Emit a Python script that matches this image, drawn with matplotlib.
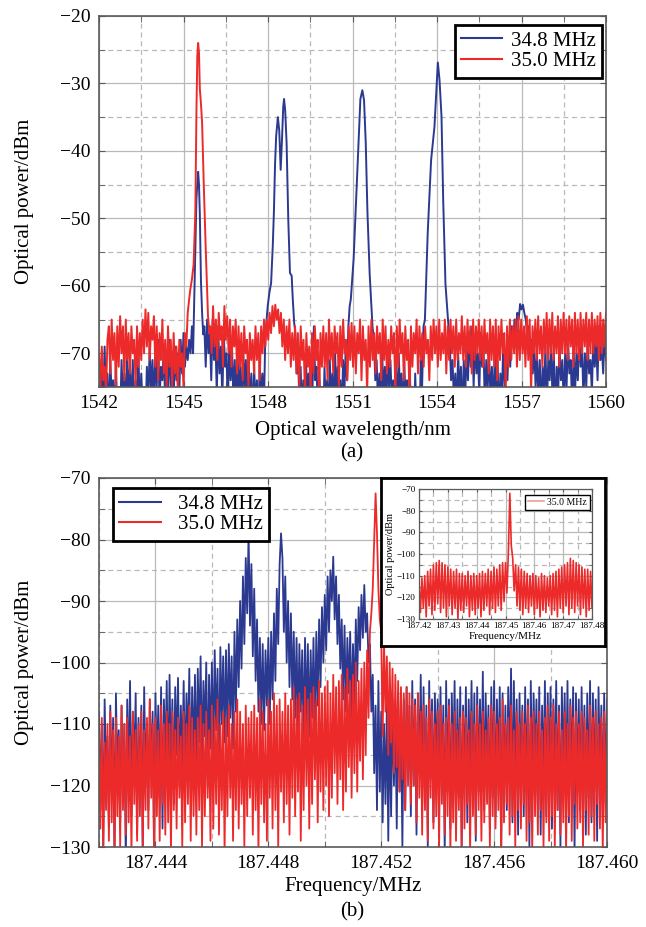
import numpy as np
import matplotlib
matplotlib.use('Agg')
import matplotlib.pyplot as plt
from matplotlib.ticker import MultipleLocator, FixedLocator, FormatStrFormatter

plt.rcParams['font.family'] = ['Liberation Serif', 'DejaVu Serif']
plt.rcParams['axes.unicode_minus'] = True

BLUE = '#2b3990'
RED = '#ec2a2a'
series_labels = ['34.8 MHz', '35.0 MHz']

# ---------------- panel (a): optical spectrum ----------------
a_xticks = [1542, 1545, 1548, 1551, 1554, 1557, 1560]
a_yticks = [-70, -60, -50, -40, -30, -20]

# 34.8 MHz trace: noise segments (start, end, values) and peaks (x, y)
a_b_n1_rng = (1542.00, 1545.30)
a_b_n1 = [-74, -79, -72, -77, -69, -78, -73, -80, -71, -76,
          -74, -79, -72, -78, -75, -80, -71, -77, -73, -79,
          -70, -76, -72, -78, -71, -80, -74, -77, -70, -79,
          -73, -78, -75, -80, -72, -77, -69, -76, -71, -78,
          -70, -75, -68, -77, -72, -74, -69, -78, -70, -76,
          -68, -75, -71, -77, -69, -74, -70, -76, -68, -73,
          -67, -72, -69, -71, -68, -70, -66]
a_b_p1_x = [1545.34, 1545.38, 1545.42, 1545.46, 1545.52, 1545.55, 1545.58, 1545.62, 1545.66, 1545.70]
a_b_p1_y = [-70, -62, -54.6, -47, -43.1, -45, -49.4, -59.3, -64, -67.2]
a_b_n2_rng = (1545.74, 1547.95)
a_b_n2 = [-66, -72, -65, -70, -67, -74, -65, -71, -68, -76,
          -66, -73, -69, -77, -67, -72, -70, -78, -68, -74,
          -69, -77, -71, -79, -70, -76, -72, -80, -69, -75,
          -71, -78, -70, -79, -73, -81, -72, -78, -74, -82,
          -71, -77, -73, -79, -68, -65]
a_b_p2_x = [1547.99, 1548.05, 1548.11, 1548.17, 1548.21, 1548.25, 1548.29, 1548.35, 1548.40, 1548.45,
            1548.50, 1548.54, 1548.57, 1548.61, 1548.66, 1548.72, 1548.78, 1548.84, 1548.88, 1548.93]
a_b_p2_y = [-63, -61, -59.6, -54, -49, -42, -37.8, -35, -37, -42.8,
            -38, -33.5, -32.3, -34, -38.8, -50.2, -58.1, -58.5, -62, -65.5]
a_b_n3_rng = (1548.97, 1550.90)
a_b_n3 = [-67, -73, -70, -77, -72, -79, -74, -80, -71, -76,
          -73, -78, -70, -75, -66, -74, -72, -79, -73, -77,
          -75, -81, -72, -78, -74, -80, -71, -77, -73, -79,
          -70, -76, -72, -78, -74, -80, -71, -76, -69, -74,
          -66, -63]
a_b_p3_x = [1550.94, 1551.04, 1551.13, 1551.22, 1551.28, 1551.35, 1551.41, 1551.47, 1551.53, 1551.61, 1551.71]
a_b_p3_y = [-62, -56, -47, -37.8, -32.3, -31, -32.5, -38.8, -49, -58.3, -66]
a_b_n4_rng = (1551.76, 1553.52)
a_b_n4 = [-68, -74, -71, -78, -73, -80, -70, -76, -72, -79,
          -69, -75, -71, -77, -74, -81, -72, -78, -70, -76,
          -73, -80, -71, -77, -74, -82, -72, -79, -75, -81,
          -73, -80, -76, -82, -71, -75, -66]
a_b_p4_x = [1553.57, 1553.67, 1553.79, 1553.91, 1553.97, 1554.03, 1554.09, 1554.16, 1554.22, 1554.30, 1554.40]
a_b_p4_y = [-65.1, -52.2, -41.4, -36.4, -31.5, -26.9, -29.5, -34.9, -47.3, -59.7, -65.6]
a_b_n5_rng = (1554.45, 1560.00)
a_b_n5 = [-68, -74, -71, -77, -73, -79, -70, -76, -72, -80, -71,
          -77, -69, -74, -67, -72, -66, -75, -68, -73, -70,
          -76, -67, -72, -69, -78, -71, -75, -70, -77, -72,
          -79, -70, -76, -71, -80, -73, -77, -69, -75, -71,
          -74, -68, -72, -66, -69, -65, -67, -64, -65, -62.7,
          -63.5, -62.8, -64, -65, -67, -66, -70, -68, -73, -69,
          -75, -70, -77, -71, -79, -72, -76, -69, -78, -71,
          -74, -68, -77, -70, -80, -72, -76, -69, -74, -71,
          -78, -70, -75, -68, -73, -71, -79, -69, -76, -70,
          -74, -67, -72, -69, -77, -70, -75, -68, -73, -71,
          -76, -67, -72, -68, -74, -66, -71, -69, -73, -67, -71]

# 35.0 MHz trace
a_r_n1_rng = (1542.00, 1545.20)
a_r_n1 = [-70, -75, -69, -74, -72, -76, -68,
          -66, -73, -65, -71, -67, -75, -66, -72, -64.5, -70, -66, -74, -65, -71,
          -67, -73, -66, -70, -68, -75, -66, -72, -67, -71,
          -65, -70, -63.5, -69, -64, -71, -66, -68, -64.5, -72,
          -66, -74, -67, -71, -65, -73, -68, -75, -66, -72,
          -68, -75, -67, -73, -69, -76, -68, -72, -70, -75, -67, -69, -64, -62]
a_r_p_x = [1545.24, 1545.30, 1545.36, 1545.42, 1545.46, 1545.49, 1545.52, 1545.55,
           1545.58, 1545.62, 1545.66, 1545.72, 1545.79, 1545.87, 1545.92]
a_r_p_y = [-60.6, -59, -56.8, -49, -34, -26, -24, -25.5, -30.8, -33, -35.8, -45, -54.6, -64.5, -67]
a_r_n2_rng = (1545.95, 1560.00)
a_r_n2 = [-66, -70, -63, -69, -65, -71, -64, -68, -66, -72,
          -63, -68, -64.5, -70, -65, -72, -66, -69, -65, -73,
          -66, -72, -67, -74, -66, -70, -68, -75, -67, -71,
          -68, -73, -66, -71, -67, -74, -66, -70, -65, -69,
          -65, -68, -64, -67, -63, -66, -62.8, -65, -63.5, -67,
          -64, -69, -65, -71, -66, -70, -65, -72, -67, -71,
          -66, -73, -67, -75, -66, -71, -68, -76, -67, -72,
          -69, -76, -67, -73, -66, -71, -68, -77, -67, -72,
          -66, -72, -67, -74, -65, -71, -67, -73, -66, -70,
          -67, -75, -66, -72, -65, -70, -68, -74, -66, -71,
          -65.5, -72, -66, -73, -67, -70, -65, -74, -66, -71,
          -68, -76, -66, -72, -65, -71, -67, -73, -66, -70,
          -67, -74, -65, -71, -66, -73, -68, -72, -66, -70,
          -67, -76, -66, -72, -65, -70, -67, -74, -66, -71,
          -68, -77, -66, -72, -67, -70, -65, -73, -66, -71,
          -67, -72, -66, -70, -68, -74, -66, -71, -65, -70,
          -66, -72, -65, -71, -67, -70, -65, -73, -66, -71,
          -65, -70, -66, -72, -65, -71, -67, -70, -64.5, -71,
          -66, -72, -65, -70, -66, -73, -65, -71, -66, -70,
          -65, -71, -66, -72, -65, -70, -67, -73, -65, -71,
          -66, -72, -65, -74, -66, -71, -65, -70, -67, -76,
          -66, -72, -65, -71, -66, -70, -65, -72, -64.5, -71,
          -65, -70, -66, -72, -64.5, -71, -65, -76, -66, -70,
          -65, -71, -64.5, -70, -66, -72, -65, -70, -64, -71,
          -65, -70, -64, -71, -66, -70, -64.5, -72, -65, -70,
          -64, -70, -65, -71, -64.5, -69, -65, -72, -64, -70,
          -65, -71, -64, -70, -65, -69, -64, -71, -65, -70,
          -64, -70, -65, -69, -64.5, -71, -64, -70, -65, -69, -64]

# ---------------- panel (b): beat spectrum ----------------
b_range = (187.442, 187.460)
b_xticks = [187.444, 187.448, 187.452, 187.456, 187.460]
b_yticks = [-130, -120, -110, -100, -90, -80, -70]
b_blue = [-108, -124, -110, -130, -106, -119, -112, -127, -107, -121,
          -109, -131, -105, -118, -111, -126, -107, -122, -110, -133,
          -106, -120, -103, -125, -108, -117, -105, -128, -109, -121,
          -107, -131, -104, -119, -110, -124, -106, -118, -108, -129,
          -105, -117, -107, -122, -104, -127, -106, -116, -103, -121,
          -102, -118, -106, -123, -104, -115, -102.5, -120, -107, -117,
          -103, -119, -105, -114, -101, -122, -104, -116, -102, -118,
          -101, -113, -99, -117, -103, -112, -100, -120, -102, -114,
          -100, -115, -98, -111, -101, -118, -97.5, -110, -99, -113,
          -98, -112, -97, -109, -99, -114, -95, -108, -93, -104,
          -90, -101, -86, -97, -83, -92, -79, -94, -84, -99,
          -88, -103, -93, -108, -96, -110, -97, -111, -98, -107,
          -96, -110, -95, -106, -92, -103, -88, -97, -84, -79,
          -83, -95, -86, -100, -90, -104, -92, -106, -95, -109,
          -96, -111, -97, -108, -98, -113, -96, -110, -97, -112,
          -98, -109, -96, -112, -95, -107, -93, -104, -91, -100,
          -89, -98, -86, -95, -85, -90, -82.8, -93, -86, -97,
          -89, -101, -93, -106, -94, -108, -96, -105, -95, -109,
          -97, -107, -93, -103, -91, -98, -89, -96, -87.4, -95,
          -92, -100, -97, -108, -102, -118, -107, -124, -103, -121,
          -108, -126, -110, -123, -107, -129, -109, -125, -106, -120,
          -108, -127, -105, -121, -110, -130, -106, -124, -104, -119,
          -107, -125, -103, -120, -106, -128, -105, -118, -102, -123,
          -104, -122, -107, -130, -103, -119, -106, -126, -105, -117,
          -106, -124, -104, -120, -107, -131, -103, -121, -106, -127,
          -105, -118, -103, -125, -106, -122, -104, -130, -107, -120,
          -104, -126, -106, -119, -103, -123, -105, -129, -104, -121,
          -106, -120, -101.5, -124, -105, -118, -107, -127, -104, -122,
          -103, -125, -106, -119, -104, -131, -105, -121, -107, -124,
          -104, -118, -101, -126, -103, -120, -106, -128, -105, -119,
          -107, -125, -104, -121, -106, -130, -103, -122, -105, -117,
          -106, -123, -104, -128, -107, -120, -103, -125, -105, -119,
          -104, -127, -106, -121, -103, -124, -107, -130, -104, -118,
          -105, -122, -103, -126, -106, -119, -104, -131, -105, -121,
          -106, -124, -104, -120, -107, -128, -105, -122, -103, -126,
          -105, -121, -106, -129, -104, -119, -107, -125, -105, -123,
          -106]
b_red = [-112, -127, -109, -131, -113, -124, -110, -129, -108, -126,
         -111, -132, -109, -125, -112, -130, -107, -124, -110, -128,
         -109, -126, -112, -131, -108, -123, -111, -129, -110, -125,
         -108, -130, -111, -124, -109, -127, -106, -122, -110, -131,
         -109, -125, -111, -129, -107, -123, -110, -128, -108, -126,
         -110, -131, -108, -124, -111, -127, -109, -122, -112, -130,
         -108, -126, -110, -123, -107, -129, -109, -125, -111, -128,
         -109, -124, -107, -130, -110, -125, -108, -122, -111, -129,
         -107, -127, -109, -123, -106, -128, -110, -124, -108, -131,
         -109, -125, -107, -122, -110, -129, -108, -124, -106, -127,
         -108, -123, -110, -130, -107, -125, -109, -122, -108, -128,
         -107, -124, -109, -131, -106, -123, -108, -126, -110, -129,
         -106, -122, -108, -127, -105, -124, -107, -130, -106, -121,
         -108, -126, -105, -123, -107, -128, -106, -122, -104, -125,
         -106, -121, -105, -129, -107, -124, -104, -120, -106, -127,
         -105, -123, -104, -119, -106, -126, -103, -121, -105, -124,
         -104, -120, -103, -125, -105, -122, -102, -118, -104, -123,
         -103, -119, -102, -124, -104, -121, -101, -117, -103, -122,
         -102, -118, -100, -121, -103, -116, -101, -119, -100, -115,
         -98, -109, -95, -92, -88, -80, -72.5, -79, -88, -93,
         -95, -112, -97, -108, -99, -115, -100, -113, -101, -118,
         -102, -117, -103, -121, -104, -119, -105, -124, -104, -120,
         -105, -123, -106, -120, -107, -126, -105, -122, -108, -128,
         -107, -124, -109, -129, -106, -122, -108, -127, -110, -125,
         -108, -130, -107, -123, -110, -128, -109, -125, -107, -131,
         -110, -126, -108, -129, -111, -124, -109, -130, -108, -127,
         -109, -123, -111, -131, -108, -125, -110, -128, -107, -124,
         -110, -129, -108, -126, -111, -123, -109, -130, -107, -125,
         -108, -127, -110, -124, -109, -131, -106, -126, -110, -123,
         -109, -128, -107, -125, -111, -130, -108, -124, -110, -127,
         -108, -123, -110, -129, -107, -126, -109, -131, -108, -125,
         -110, -128, -108, -124, -111, -130, -109, -126, -107, -129,
         -109, -125, -107, -130, -110, -124, -108, -128, -111, -126,
         -108, -131, -110, -125, -107, -129, -109, -123, -108, -127,
         -110, -126, -108, -130, -109, -124, -111, -128, -107, -125,
         -109, -129, -108, -123, -110, -127, -109, -131, -108, -126,
         -110]

# inset: wide span of the 35.0 MHz beat spectrum
c_range = (187.42, 187.48)
c_xticks = [187.42, 187.43, 187.44, 187.45, 187.46, 187.47, 187.48]
c_yticks = [-130, -120, -110, -100, -90, -80, -70]
c_red = [-113, -127, -111, -125, -110, -129, -108, -124, -107, -128,
         -105, -126, -104, -123, -103, -127, -104, -125, -105, -129,
         -106, -124, -107, -128, -108, -125, -107, -130, -109, -126,
         -109, -127, -110, -124, -108, -129, -110, -126, -109, -128,
         -110, -125, -109, -129, -108, -126, -109, -124, -107, -128,
         -108, -125, -106, -127, -107, -124, -105, -126, -104, -122,
         -104, -118, -99, -72, -96, -102, -117, -105, -124, -106,
         -126, -107, -128, -108, -125, -109, -127, -110, -124, -109,
         -128, -110, -125, -111, -129, -109, -126, -110, -127, -111,
         -124, -110, -128, -109, -126, -108, -129, -107, -125, -106,
         -127, -105, -124, -104, -128, -102, -125, -103, -127, -104,
         -124, -105, -128, -106, -125, -107, -129, -107, -126, -108,
         -125]


def noise(rng, vals):
    return np.linspace(rng[0], rng[1], len(vals)), np.asarray(vals, float)


def concat(parts):
    xs = np.concatenate([np.asarray(p[0], float) for p in parts])
    ys = np.concatenate([np.asarray(p[1], float) for p in parts])
    return xs, ys


a_blue_x, a_blue_y = concat([noise(a_b_n1_rng, a_b_n1), (a_b_p1_x, a_b_p1_y),
                             noise(a_b_n2_rng, a_b_n2), (a_b_p2_x, a_b_p2_y),
                             noise(a_b_n3_rng, a_b_n3), (a_b_p3_x, a_b_p3_y),
                             noise(a_b_n4_rng, a_b_n4), (a_b_p4_x, a_b_p4_y),
                             noise(a_b_n5_rng, a_b_n5)])
a_red_x, a_red_y = concat([noise(a_r_n1_rng, a_r_n1), (a_r_p_x, a_r_p_y),
                           noise(a_r_n2_rng, a_r_n2)])
b_x = np.linspace(b_range[0], b_range[1], len(b_blue))
b_xr = np.linspace(b_range[0], b_range[1], len(b_red))
c_x = np.linspace(c_range[0], c_range[1], len(c_red))

W, H = 646, 927
fig = plt.figure(figsize=(W / 100, H / 100), dpi=100)

GRID = '#b9b9b9'
SPINE = '#5a5a5a'


def style(ax, labelsize, pad, major_len, minor_len):
    ax.grid(which='major', color=GRID, lw=0.9, ls='-')
    ax.grid(which='minor', color=GRID, lw=0.9, ls=(0, (4, 3)))
    ax.set_axisbelow(True)
    ax.tick_params(which='both', direction='in', top=True, right=True, color=SPINE)
    ax.tick_params(which='major', length=major_len, labelsize=labelsize, pad=pad)
    ax.tick_params(which='minor', length=minor_len)
    for s in ax.spines.values():
        s.set_color(SPINE)
        s.set_linewidth(1.2)


def px_axes(l, t, r, b):
    return fig.add_axes([l / W, 1 - b / H, (r - l) / W, (b - t) / H])


# ---- panel (a)
ax1 = px_axes(99, 16, 606, 387)
ax1.plot(a_blue_x, a_blue_y, color=BLUE, lw=1.4, label=series_labels[0])
ax1.plot(a_red_x, a_red_y, color=RED, lw=1.4, label=series_labels[1])
ax1.set_xlim(1542, 1560)
ax1.set_ylim(-75, -20)
ax1.xaxis.set_major_locator(FixedLocator(a_xticks))
ax1.xaxis.set_minor_locator(MultipleLocator(1.5))
ax1.yaxis.set_major_locator(FixedLocator(a_yticks))
ax1.yaxis.set_minor_locator(MultipleLocator(5))
style(ax1, 14, 6, 4, 4)
ax1.set_xlabel('Optical wavelength/nm', fontsize=15)
ax1.xaxis.label.set_va('center')
ax1.xaxis.set_label_coords(0.5, (387 - 431) / 371)
ax1.set_ylabel('Optical power/dBm', fontsize=15)
ax1.yaxis.label.set_va('center')
ax1.yaxis.set_label_coords((25 - 99) / 507, 0.5)
leg1 = ax1.legend(loc='upper right', bbox_to_anchor=(0.992, 0.976), borderaxespad=0,
                  fontsize=15, fancybox=False, edgecolor='black', framealpha=1,
                  handlelength=2.0, handletextpad=0.4, labelspacing=0.05, borderpad=0.3)
leg1.get_frame().set_linewidth(2)
for ln in leg1.get_lines():
    ln.set_linewidth(1.5)
fig.text(352 / W, 1 - 453 / H, '(a)', ha='center', va='center', fontsize=15)

# ---- panel (b)
ax2 = px_axes(99, 478, 607, 847)
ax2.plot(b_x, b_blue, color=BLUE, lw=1.3, label=series_labels[0])
ax2.plot(b_xr, b_red, color=RED, lw=1.3, label=series_labels[1])
ax2.set_xlim(*b_range)
ax2.set_ylim(-130, -70)
ax2.xaxis.set_major_locator(FixedLocator(b_xticks))
ax2.xaxis.set_minor_locator(MultipleLocator(0.002))
ax2.xaxis.set_major_formatter(FormatStrFormatter('%.3f'))
ax2.yaxis.set_major_locator(FixedLocator(b_yticks))
ax2.yaxis.set_minor_locator(MultipleLocator(5))
style(ax2, 14, 6, 4, 4)
ax2.set_xlabel('Frequency/MHz', fontsize=15)
ax2.xaxis.label.set_va('center')
ax2.xaxis.set_label_coords(0.5, (847 - 887) / 369)
ax2.set_ylabel('Optical power/dBm', fontsize=15)
ax2.yaxis.label.set_va('center')
ax2.yaxis.set_label_coords((25 - 99) / 508, 0.5)
leg2 = ax2.legend(loc='upper left', bbox_to_anchor=((113 - 99) / 508, (847 - 488) / 369),
                  borderaxespad=0, fontsize=15, fancybox=False, edgecolor='black',
                  framealpha=1, handlelength=2.0, handletextpad=0.8, labelspacing=0.05,
                  borderpad=0.3)
leg2.get_frame().set_linewidth(2)
for ln in leg2.get_lines():
    ln.set_linewidth(1.5)
fig.text(352 / W, 1 - 912 / H, '(b)', ha='center', va='center', fontsize=15)

# ---- inset
box = px_axes(381, 478, 605, 646)
box.set_xticks([])
box.set_yticks([])
box.set_facecolor('white')
for s in box.spines.values():
    s.set_color('black')
    s.set_linewidth(2)

ins = px_axes(419, 489, 592, 619)
ins.plot(c_x, c_red, color=RED, lw=1.2, label=series_labels[1])
ins.set_xlim(*c_range)
ins.set_ylim(-130, -70)
ins.xaxis.set_major_locator(FixedLocator(c_xticks))
ins.xaxis.set_minor_locator(MultipleLocator(0.005))
ins.xaxis.set_major_formatter(FormatStrFormatter('%.2f'))
ins.yaxis.set_major_locator(FixedLocator(c_yticks))
ins.yaxis.set_minor_locator(MultipleLocator(5))
style(ins, 6.6, 2.5, 2, 2)
for s in ins.spines.values():
    s.set_linewidth(0.9)
ins.set_xlabel('Frequency/MHz', fontsize=8, labelpad=1)
ins.set_ylabel('Optical power/dBm', fontsize=7.5, labelpad=1)
leg3 = ins.legend(loc='upper right', bbox_to_anchor=((590 - 419) / 173, 0.954), borderaxespad=0,
                  fontsize=7, fancybox=False, edgecolor='black', framealpha=1,
                  handlelength=1.7, handletextpad=0.3, borderpad=0.3)
leg3.get_frame().set_linewidth(1)
for ln in leg3.get_lines():
    ln.set_color('#f29a9a')

fig.savefig('out.png', dpi=100)
